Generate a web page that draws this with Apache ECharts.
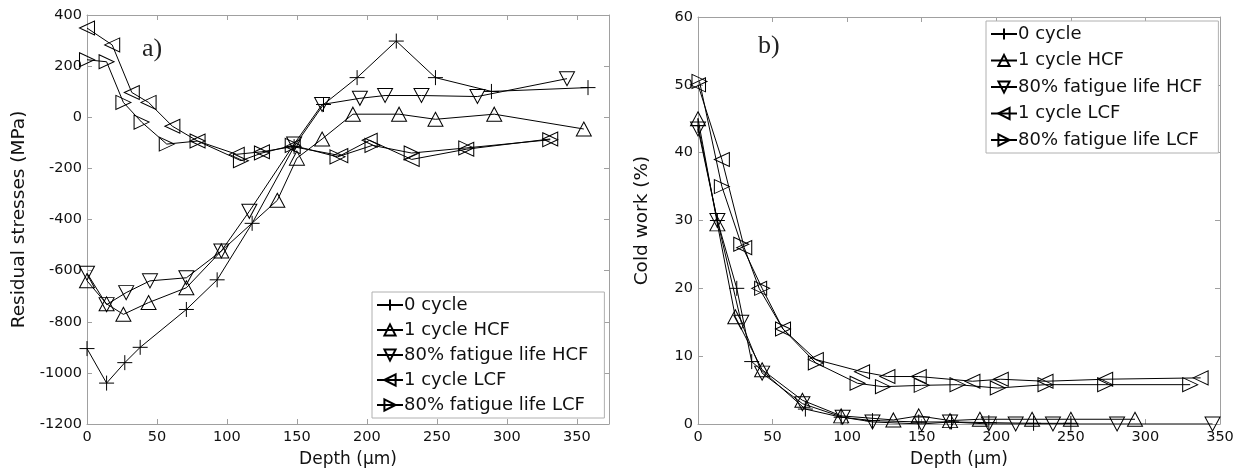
<!DOCTYPE html>
<html>
<head>
<meta charset="utf-8">
<script src="https://cdn.jsdelivr.net/npm/echarts@6/dist/echarts.min.js"></script>
<style>
  html, body { margin: 0; padding: 0; background: #fff; }
  #main { width: 1242px; height: 473px; }
</style>
</head>
<body>
<div id="main"></div>
<script>
  // a) residual stresses (MPa) vs depth (um)
  var zeroCycleDepthA = [0, 14, 27, 38, 71, 93, 118, 148, 169, 193, 221, 249, 289, 358];
  var zeroCycleStress = [-905, -1040, -960, -900, -752, -636, -415, -115, 50, 155, 298, 155, 101, 116];
  var hcf1DepthA = [0, 14, 26, 44, 71, 96, 136, 150, 168, 190, 223, 249, 291, 355];
  var hcf1Stress = [-640, -730, -771, -725, -667, -523, -325, -160, -85, 12, 12, -8, 12, -46];
  var hcf80DepthA = [0, 14, 28, 45, 71, 96, 116, 148, 168, 195, 213, 239, 279, 343];
  var hcf80Stress = [-610, -733, -686, -640, -628, -523, -368, -105, 50, 74, 85, 85, 81, 151];
  var lcf1DepthA = [0, 18, 32, 44, 61, 79, 107, 125, 147, 181, 202, 232, 271, 331];
  var lcf1Stress = [349, 283, 97, 58, -35, -93, -145, -135, -115, -150, -90, -165, -125, -85];
  var lcf80DepthA = [0, 14, 26, 39, 57, 79, 110, 125, 147, 179, 204, 232, 271, 331];
  var lcf80Stress = [225, 217, 58, -19, -105, -93, -170, -140, -110, -155, -110, -140, -120, -88];

  // b) cold work (%) vs depth (um)
  var zeroCycleDepthB = [0, 13, 26, 36, 72, 96, 117, 148, 170, 195, 225, 250];
  var zeroCycleWork = [44, 30, 20, 9.2, 2.2, 1, 0.5, 0.3, 0.3, 0.2, 0.1, 0.1];
  var hcf1DepthB = [0, 13, 25, 43, 70, 96, 131, 148, 169, 189, 224, 250, 293];
  var hcf1Work = [45, 29.5, 15.8, 8, 3.5, 1.2, 0.6, 1.2, 0.5, 0.7, 0.7, 0.7, 0.7];
  var hcf80DepthB = [0, 13, 29, 43, 70, 97, 117, 150, 169, 195, 213, 238, 281, 345];
  var hcf80Work = [43.5, 30, 15, 7.5, 3, 1, 0.3, 0, 0.3, 0, 0, 0, 0, 0];
  var lcf1DepthB = [0, 16, 31, 41, 57, 79, 110, 127, 148, 184, 203, 233, 273, 337];
  var lcf1Work = [50, 39, 26, 20, 14, 9.5, 7.7, 7, 7, 6.3, 6.6, 6.3, 6.6, 6.8];
  var lcf80DepthB = [1, 16, 29, 43, 57, 79, 107, 124, 150, 174, 201, 233, 273, 330];
  var lcf80Work = [50.5, 35, 26.5, 20, 14, 9, 6, 5.5, 5.7, 5.8, 5.3, 5.8, 5.8, 5.8];

  var seriesNames = ['0 cycle', '1 cycle HCF', '80% fatigue life HCF', '1 cycle LCF', '80% fatigue life LCF'];
  var markers = [
    'path://M0,5L10,5M5,0L5,10',
    'path://M5,0L10,9L0,9Z',
    'path://M0,0L10,0L5,9Z',
    'path://M0,5L9,0L9,10Z',
    'path://M0,0L9,5L0,10Z'
  ];

  function zip(xs, ys) {
    var out = [];
    for (var i = 0; i < xs.length; i++) out.push([xs[i], ys[i]]);
    return out;
  }

  function mkSeries(k, idx, data) {
    return {
      name: seriesNames[k],
      type: 'line',
      xAxisIndex: idx * 2,
      yAxisIndex: idx * 2,
      data: data,
      symbol: markers[k],
      symbolSize: k === 0 ? 15 : [15, 14],
      symbolKeepAspect: false,
      showAllSymbol: true,
      lineStyle: { color: '#000', width: 1 },
      itemStyle: { color: 'none', borderColor: '#000', borderWidth: 1 },
      emphasis: { disabled: true },
      z: 3
    };
  }

  // plain numbers, no thousands separator (-1000 not -1,000)
  var tickFont = {
    fontFamily: 'DejaVu Sans', fontSize: 14.5, color: '#111',
    formatter: function (v) { return String(v); }
  };
  var frameColor = '#a0a0a0';

  function xAxes(gi, max) {
    var base = {
      gridIndex: gi, type: 'value', min: 0, max: max, interval: 50,
      axisLine: { show: true, onZero: false, lineStyle: { color: frameColor, width: 1 } },
      axisTick: { show: true, inside: true, length: 5, lineStyle: { color: frameColor } },
      splitLine: { show: false }
    };
    return [
      Object.assign({}, base, {
        position: 'bottom',
        name: 'Depth (\u00b5m)', nameLocation: 'middle', nameGap: 27,
        nameTextStyle: { fontFamily: 'DejaVu Sans', fontSize: 17, color: '#111' },
        axisLabel: Object.assign({ margin: 6, showMaxLabel: max % 50 === 0 }, tickFont)
      }),
      Object.assign({}, base, { position: 'top', axisLabel: { show: false } })
    ];
  }

  function yAxes(gi, min, max, interval, name, gap) {
    var base = {
      gridIndex: gi, type: 'value', min: min, max: max, interval: interval,
      axisLine: { show: true, onZero: false, lineStyle: { color: frameColor, width: 1 } },
      axisTick: { show: true, inside: true, length: 5, lineStyle: { color: frameColor } },
      splitLine: { show: false }
    };
    return [
      Object.assign({}, base, {
        position: 'left',
        name: name, nameLocation: 'middle', nameGap: gap,
        nameTextStyle: { fontFamily: 'DejaVu Sans', fontSize: 18.5, color: '#111' },
        axisLabel: Object.assign({ margin: 5 }, tickFont)
      }),
      Object.assign({}, base, { position: 'right', axisLabel: { show: false } })
    ];
  }

  function legendAt(left, top, gap) {
    return {
      data: seriesNames.slice(),
      orient: 'vertical',
      left: left, top: top,
      itemWidth: 26, itemHeight: 14, itemGap: gap,
      padding: [4, 16, 4, 4],
      borderColor: '#b0b0b0', borderWidth: 1,
      backgroundColor: '#fff',
      selectedMode: false,
      textStyle: { fontFamily: 'DejaVu Sans', fontSize: 18, color: '#111', padding: [0, 0, 0, -4] }
    };
  }

  var chart = echarts.init(document.getElementById('main'), null, { renderer: 'canvas' });

  var option = {
    animation: false,
    backgroundColor: '#fff',
    grid: [
      { left: 87, top: 15, width: 522, height: 413 },
      { left: 698, top: 17, width: 522, height: 411 }
    ],
    xAxis: xAxes(0, 373).concat(xAxes(1, 350)),
    yAxis: yAxes(0, -1200, 400, 200, 'Residual stresses (MPa)', 58)
      .concat(yAxes(1, 0, 60, 10, 'Cold work (%)', 46)),
    legend: [
      legendAt(372, 292, 7),
      legendAt(986, 21, 8.5)
    ],
    graphic: [
      { type: 'text', left: 142, top: 36, style: { text: 'a)', font: '26px "Liberation Serif"', fill: '#222' } },
      { type: 'text', left: 758, top: 33, style: { text: 'b)', font: '26px "Liberation Serif"', fill: '#222' } }
    ],
    series: [
      mkSeries(0, 0, zip(zeroCycleDepthA, zeroCycleStress)),
      mkSeries(1, 0, zip(hcf1DepthA, hcf1Stress)),
      mkSeries(2, 0, zip(hcf80DepthA, hcf80Stress)),
      mkSeries(3, 0, zip(lcf1DepthA, lcf1Stress)),
      mkSeries(4, 0, zip(lcf80DepthA, lcf80Stress)),
      mkSeries(0, 1, zip(zeroCycleDepthB, zeroCycleWork)),
      mkSeries(1, 1, zip(hcf1DepthB, hcf1Work)),
      mkSeries(2, 1, zip(hcf80DepthB, hcf80Work)),
      mkSeries(3, 1, zip(lcf1DepthB, lcf1Work)),
      mkSeries(4, 1, zip(lcf80DepthB, lcf80Work))
    ]
  };

  chart.setOption(option);
</script>
</body>
</html>
